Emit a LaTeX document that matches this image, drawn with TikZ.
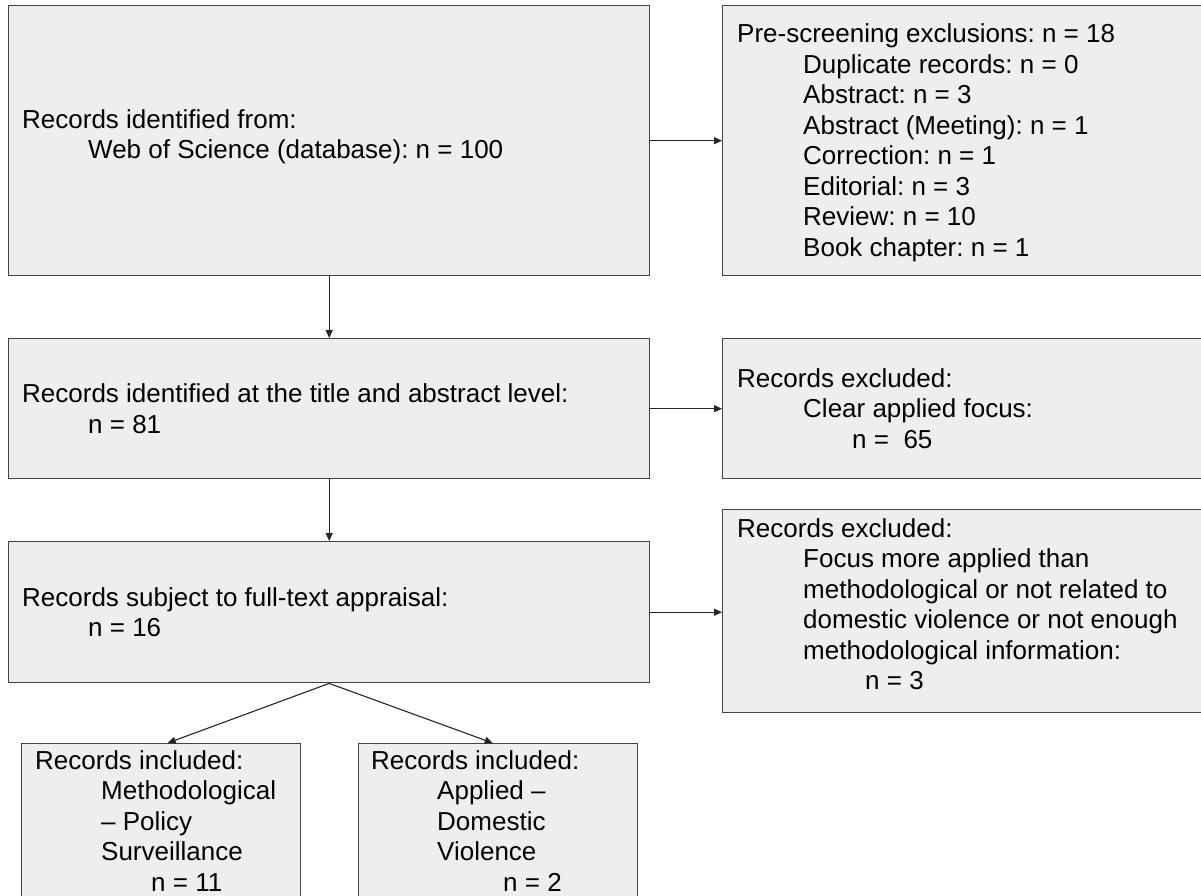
\documentclass[tikz,border=0pt]{standalone}
\usepackage{fontspec}
\setmainfont{Liberation Sans}
\usetikzlibrary{arrows.meta}
\definecolor{boxfill}{HTML}{EEEEEE}
\definecolor{boxline}{HTML}{444444}
\tikzset{
  box/.style={draw=boxline, line width=1.4pt, fill=boxfill, rectangle, inner sep=0pt, anchor=north west},
  txt/.style={inner sep=0pt, align=left, font={\fontsize{26}{30.5}\selectfont\frenchspacing}, text=black},
  arr/.style={draw=black!85, line width=1.1pt, -{Triangle[length=8pt,width=7pt]}},
}
\newcommand{\ind}[1]{\hspace*{#1pt}}
\begin{document}
\begin{tikzpicture}[x=1pt,y=-1pt]
\useasboundingbox (0,0) rectangle (1201,896);
% boxes
\node[box, minimum width=641pt, minimum height=270pt] (A) at (8,5) {};
\node[box, minimum width=481pt, minimum height=270pt] (B) at (722,5) {};
\node[box, minimum width=641pt, minimum height=140pt] (C) at (8,338) {};
\node[box, minimum width=481pt, minimum height=140pt] (D) at (722,338) {};
\node[box, minimum width=641pt, minimum height=141pt] (E) at (8,541) {};
\node[box, minimum width=481pt, minimum height=203pt] (F) at (722,509) {};
\node[box, minimum width=279pt, minimum height=170pt] (G) at (21,743) {};
\node[box, minimum width=279pt, minimum height=170pt] (H) at (358,743) {};
% texts
\node[txt, anchor=west] (tA) at ([xshift=14pt,yshift=4pt]A.west) {Records identified from:\\\ind{66}Web of Science (database): n = 100};
\node[txt, anchor=west] (tB) at ([xshift=15pt,yshift=-2pt]B.west) {Pre-screening exclusions: n = 18\\\ind{66}Duplicate records: n = 0\\\ind{66}Abstract: n = 3\\\ind{66}Abstract (Meeting): n = 1\\\ind{66}Correction: n = 1\\\ind{66}Editorial: n = 3\\\ind{66}Review: n = 10\\\ind{66}Book chapter: n = 1};
\node[txt, anchor=west] (tC) at ([xshift=14pt]C.west) {Records identified at the title and abstract level:\\\ind{66}n = 81};
\node[txt, anchor=west] (tD) at ([xshift=15pt]D.west) {Records excluded:\\\ind{66}Clear applied focus:\\\ind{115}n = \ 65};
\node[txt, anchor=west] (tE) at ([xshift=14pt]E.west) {Records subject to full-text appraisal:\\\ind{66}n = 16};
\node[txt, anchor=north west] (tF) at ([xshift=15pt,yshift=-9pt]F.north west) {Records excluded:\\\ind{66}Focus more applied than\\\ind{66}methodological or not related to\\\ind{66}domestic violence or not enough\\\ind{66}methodological information:\\\ind{128}n = 3};
\node[txt, anchor=north west] (tG) at ([xshift=14pt,yshift=-7pt]G.north west) {Records included:\\\ind{66}Methodological\\\ind{66}-- Policy\\\ind{66}Surveillance\\\ind{116}n = 11};
\node[txt, anchor=north west] (tH) at ([xshift=13pt,yshift=-7pt]H.north west) {Records included:\\\ind{66}Applied --\\\ind{66}Domestic\\\ind{66}Violence\\\ind{132}n = 2};
% connectors
\draw[arr] (A.east) -- (A.east -| B.west);
\draw[arr] (A.south) -- (C.north);
\draw[arr] (C.east) -- (C.east -| D.west);
\draw[arr] (C.south) -- (E.north);
\draw[arr] (E.east) -- (E.east -| F.west);
\draw[arr] (E.south) -- ([xshift=6.5pt]G.north);
\draw[arr] (E.south) -- ([xshift=-5.5pt]H.north);
\end{tikzpicture}
\end{document}
